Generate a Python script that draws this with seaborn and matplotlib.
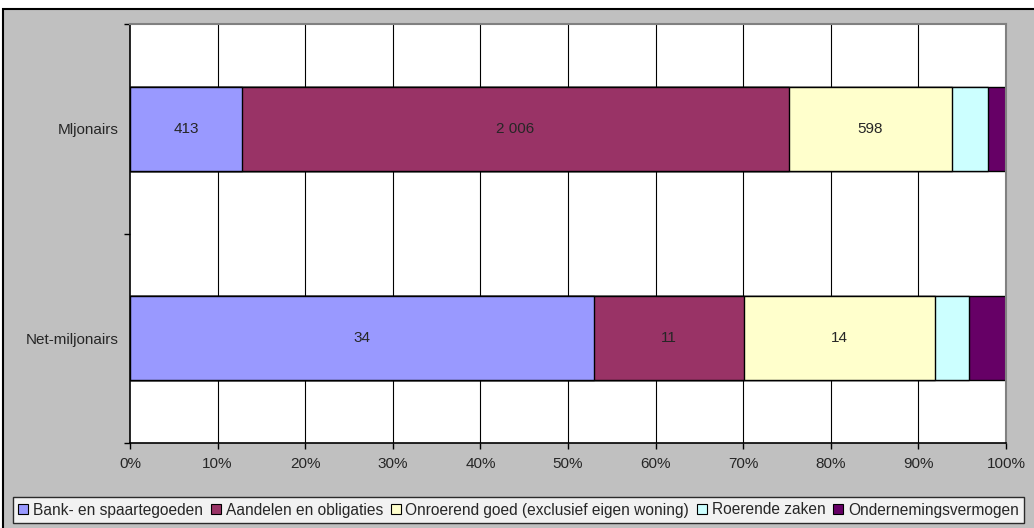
import numpy as np
import pandas as pd
import matplotlib
matplotlib.use("Agg")
import matplotlib.pyplot as plt
from matplotlib.patches import Rectangle, Patch
import seaborn as sns

# data
groups = ["Mljonairs", "Net-miljonairs"]
categories = ["Bank- en spaartegoeden", "Aandelen en obligaties",
              "Onroerend goed (exclusief eigen woning)", "Roerende zaken",
              "Ondernemingsvermogen"]
miljonairs = [413, 2006, 598, 135, 65]
net_miljonairs = [34, 11, 14, 2.5, 2.7]
labels_mil = ["413", "2 006", "598", "", ""]
labels_net = ["34", "11", "14", "", ""]
colors = ["#9999FF", "#993366", "#FFFFCC", "#CCFFFF", "#660066"]

sns.set_style("white")
plt.rcParams["font.family"] = ["Liberation Sans", "DejaVu Sans"]

# percentages and cumulative shares
vals = np.array([miljonairs, net_miljonairs], dtype=float)
pct = vals / vals.sum(axis=1, keepdims=True) * 100
cum = pct.cumsum(axis=1)

fig = plt.figure(figsize=(10.34, 5.28), dpi=100)
fig.patch.set_facecolor("white")
fig.patches.append(Rectangle((3 / 1034, -0.05), 1.2, (528 - 9) / 528 + 0.05,
                             transform=fig.transFigure, facecolor="#C0C0C0",
                             edgecolor="black", linewidth=1.5, zorder=-10))

ax = fig.add_axes([130 / 1034, 1 - 443 / 528, (1006 - 130) / 1034, (443 - 24) / 528])
ax.set_facecolor("white")

# gridlines
for x in range(10, 100, 10):
    ax.axvline(x, color="black", linewidth=0.8, zorder=0)

# stacked bars: draw cumulative totals from the outer segment inward
for i in range(len(categories) - 1, -1, -1):
    df = pd.DataFrame({"groep": groups, "cum": cum[:, i]})
    sns.barplot(data=df, x="cum", y="groep", order=groups, orient="h",
                color=colors[i], width=0.4, edgecolor="black", linewidth=1.0,
                saturation=1, ax=ax, zorder=2)

# value labels
for r, labs in enumerate([labels_mil, labels_net]):
    for i, lab in enumerate(labs):
        if lab:
            left = cum[r, i] - pct[r, i]
            ax.text(left + pct[r, i] / 2, r, lab, ha="center", va="center",
                    fontsize=11, zorder=3)

ax.set_xlim(0, 100)
ax.set_ylim(1.5, -0.5)
ax.set_xticks(range(0, 101, 10))
ax.set_xticklabels([f"{x}%" for x in range(0, 101, 10)], fontsize=11)
ax.set_yticks([0, 1])
ax.set_yticklabels(groups, fontsize=11)
ax.tick_params(axis="y", which="major", length=0, pad=8)
ax.set_yticks([-0.5, 0.5, 1.5], minor=True)
ax.tick_params(axis="y", which="minor", length=4, width=1, color="black", direction="out", left=True)
ax.tick_params(axis="x", length=4, width=1, color="black", direction="out", bottom=True, pad=6)
ax.set_xlabel("")
ax.set_ylabel("")

for s in ["top", "right"]:
    ax.spines[s].set_color("#808080")
    ax.spines[s].set_linewidth(1.5)
for s in ["left", "bottom"]:
    ax.spines[s].set_color("black")
    ax.spines[s].set_linewidth(1.2)

handles = [Patch(facecolor=c, edgecolor="black", linewidth=0.8) for c in colors]
leg = fig.legend(handles, categories, loc="center", bbox_to_anchor=(518.5 / 1034, 1 - 510 / 528),
                 ncol=5, fontsize=11.2, frameon=True, fancybox=False,
                 handlelength=0.65, handleheight=0.65, handletextpad=0.3,
                 columnspacing=0.5, borderpad=0.35, borderaxespad=0)
leg.get_frame().set_edgecolor("black")
leg.get_frame().set_facecolor("white")
leg.get_frame().set_linewidth(1.0)

fig.savefig("out.png", dpi=100, facecolor=fig.get_facecolor())
